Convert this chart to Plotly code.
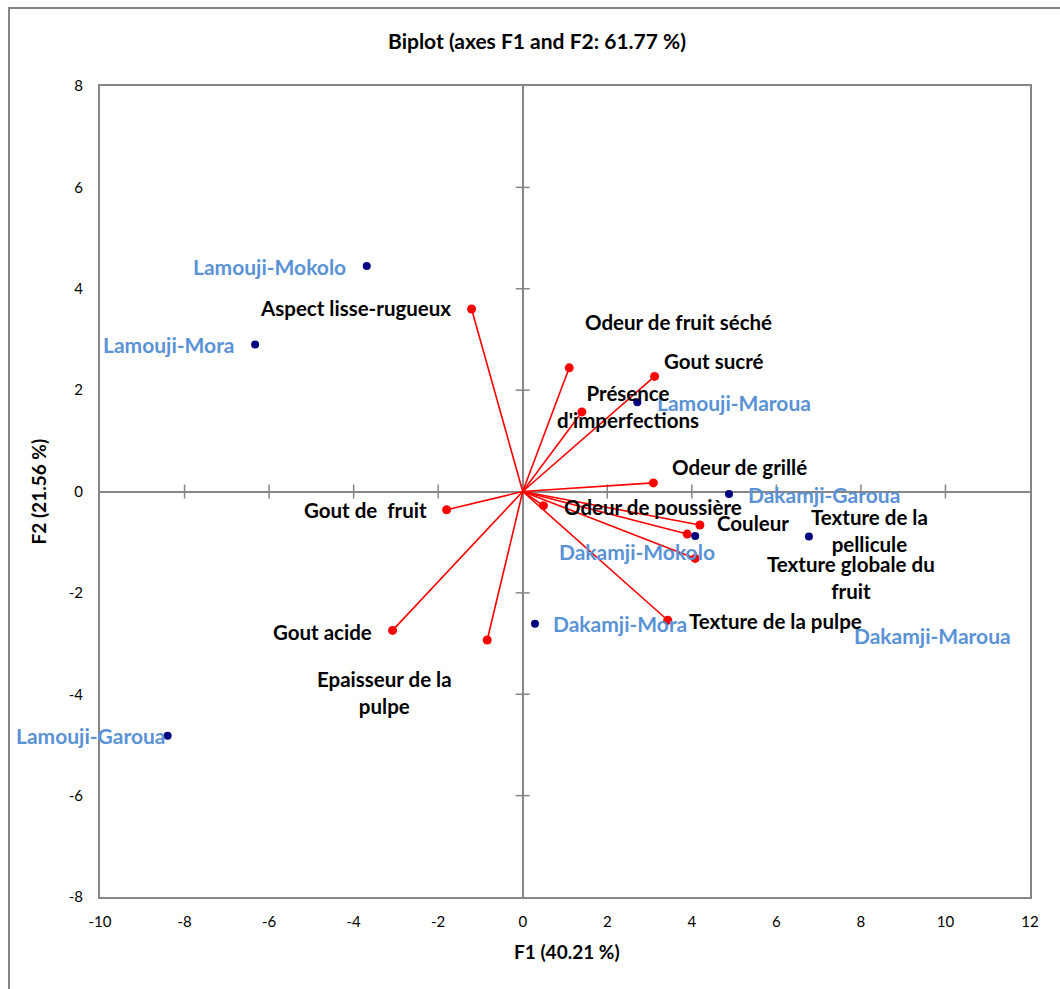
import plotly.graph_objects as go

# Observations (sample scores on F1 / F2)
obs_names = ["Lamouji-Mokolo", "Lamouji-Mora", "Lamouji-Maroua", "Lamouji-Garoua",
             "Dakamji-Garoua", "Dakamji-Mokolo", "Dakamji-Mora", "Dakamji-Maroua"]
obs_f1 = [-3.69, -6.33, 2.71, -8.40, 4.88, 4.08, 0.29, 6.77]
obs_f2 = [4.45, 2.90, 1.76, -4.82, -0.05, -0.88, -2.61, -0.89]

# Sensory variables (loadings on F1 / F2)
var_names = ["Aspect lisse-rugueux", "Odeur de fruit séché", "Gout sucré",
             "Présence<br>d'imperfections", "Odeur de grillé", "Odeur de poussière",
             "Couleur", "Texture de la<br>pellicule", "Texture globale du<br>fruit",
             "Texture de la pulpe", "Gout de  fruit", "Gout acide",
             "Epaisseur de la<br>pulpe"]
var_f1 = [-1.21, 1.10, 3.12, 1.40, 3.09, 0.49, 4.19, 3.89, 4.08, 3.43, -1.80, -3.08, -0.84]
var_f2 = [3.60, 2.44, 2.27, 1.57, 0.17, -0.28, -0.66, -0.84, -1.32, -2.54, -0.36, -2.74, -2.93]

x_ticks = list(range(-10, 13, 2))
y_ticks = list(range(-8, 9, 2))

# label placement offsets (pixels) relative to each point
obs_shift = [(-97, -1), (-86, 0), (97, 0), (-77, 0), (95, 0), (-58, -15), (85, 0), (124, -99)]
var_shift = [(-116, 1), (109, 46), (59, 15), (46, 5), (86, 16), (110, -1), (53, 2),
             (182, 4), (156, -19), (108, -1), (-81, 0), (-70, -2), (-103, -52)]

GRAY = "#868686"
RED = "#FF0000"
NAVY = "#000080"
BLUE_TXT = "#5A92D6"
FONT = "Lato, 'Open Sans', sans-serif"

W, H = 1060, 989
L, R, T, B = 100, 30, 86, 92

fig = go.Figure()

# cross tick marks on the zero lines
fig.add_trace(go.Scatter(
    x=[t for t in x_ticks if t not in (0, x_ticks[0], x_ticks[-1])],
    y=[0] * (len(x_ticks) - 3),
    mode="markers", hoverinfo="skip",
    marker=dict(symbol="line-ns", size=10, line=dict(color=GRAY, width=1.5)),
))
fig.add_trace(go.Scatter(
    x=[0] * (len(y_ticks) - 3),
    y=[t for t in y_ticks if t not in (0, y_ticks[0], y_ticks[-1])],
    mode="markers", hoverinfo="skip",
    marker=dict(symbol="line-ew", size=10, line=dict(color=GRAY, width=1.5)),
))

# vectors from the origin to each variable
vx, vy = [], []
for a, b in zip(var_f1, var_f2):
    vx += [0, a, None]
    vy += [0, b, None]
fig.add_trace(go.Scatter(x=vx, y=vy, mode="lines", hoverinfo="skip",
                         line=dict(color=RED, width=1.6)))
fig.add_trace(go.Scatter(x=var_f1, y=var_f2, mode="markers",
                         marker=dict(color=RED, size=9)))
fig.add_trace(go.Scatter(x=obs_f1, y=obs_f2, mode="markers",
                         marker=dict(color=NAVY, size=8)))

annotations = []
for name, a, b, (dx, dy) in zip(obs_names, obs_f1, obs_f2, obs_shift):
    annotations.append(dict(x=a, y=b, text=name, showarrow=False,
                            xshift=dx, yshift=dy,
                            font=dict(family=FONT, size=21, color=BLUE_TXT, weight="bold")))
for name, a, b, (dx, dy) in zip(var_names, var_f1, var_f2, var_shift):
    annotations.append(dict(x=a, y=b, text=name, showarrow=False,
                            xshift=dx, yshift=dy,
                            font=dict(family=FONT, size=20.5, color="black", weight="bold")))

# axis titles
annotations.append(dict(xref="paper", yref="paper", x=467 / 930, y=0, yshift=-54,
                        text="F1 (40.21 %)", showarrow=False, yanchor="middle",
                        font=dict(family=FONT, size=19, color="black", weight="bold")))
annotations.append(dict(xref="paper", yref="paper", x=0, y=0.5, xshift=-62,
                        text="F2 (21.56 %)", showarrow=False, textangle=-90,
                        xanchor="center",
                        font=dict(family=FONT, size=19, color="black", weight="bold")))

# outer chart frame
shapes = [dict(type="rect", xref="paper", yref="paper",
               x0=(9 - L) / 930, x1=(1075 - L) / 930,
               y0=(H - B - 1005) / 811, y1=(H - B - 8) / 811,
               line=dict(color=GRAY, width=2), layer="below")]

fig.update_layout(
    width=W, height=H,
    margin=dict(l=L, r=R, t=T, b=B),
    paper_bgcolor="white", plot_bgcolor="white",
    showlegend=False,
    title=dict(text="Biplot (axes F1 and F2: 61.77 %)", x=537 / W, xanchor="center",
               y=1 - 42 / H, yanchor="middle", yref="container",
               font=dict(family=FONT, size=21, color="black", weight="bold")),
    annotations=annotations,
    shapes=shapes,
)
fig.update_xaxes(range=[-10, 12], tickvals=x_ticks, ticktext=[str(t) for t in x_ticks],
                 showgrid=False,
                 zeroline=True, zerolinecolor=GRAY, zerolinewidth=2,
                 showline=True, linecolor=GRAY, linewidth=2, mirror=True,
                 ticks="outside", ticklen=10, tickcolor="rgba(0,0,0,0)",
                 tickfont=dict(family=FONT, size=15, color="black"))
fig.update_yaxes(range=[-8, 8], tickvals=y_ticks, ticktext=[str(t) for t in y_ticks],
                 showgrid=False,
                 zeroline=True, zerolinecolor=GRAY, zerolinewidth=2,
                 showline=True, linecolor=GRAY, linewidth=2, mirror=True,
                 ticks="outside", ticklen=12, tickcolor="rgba(0,0,0,0)",
                 tickfont=dict(family=FONT, size=15, color="black"))

fig.write_html("out.html")
